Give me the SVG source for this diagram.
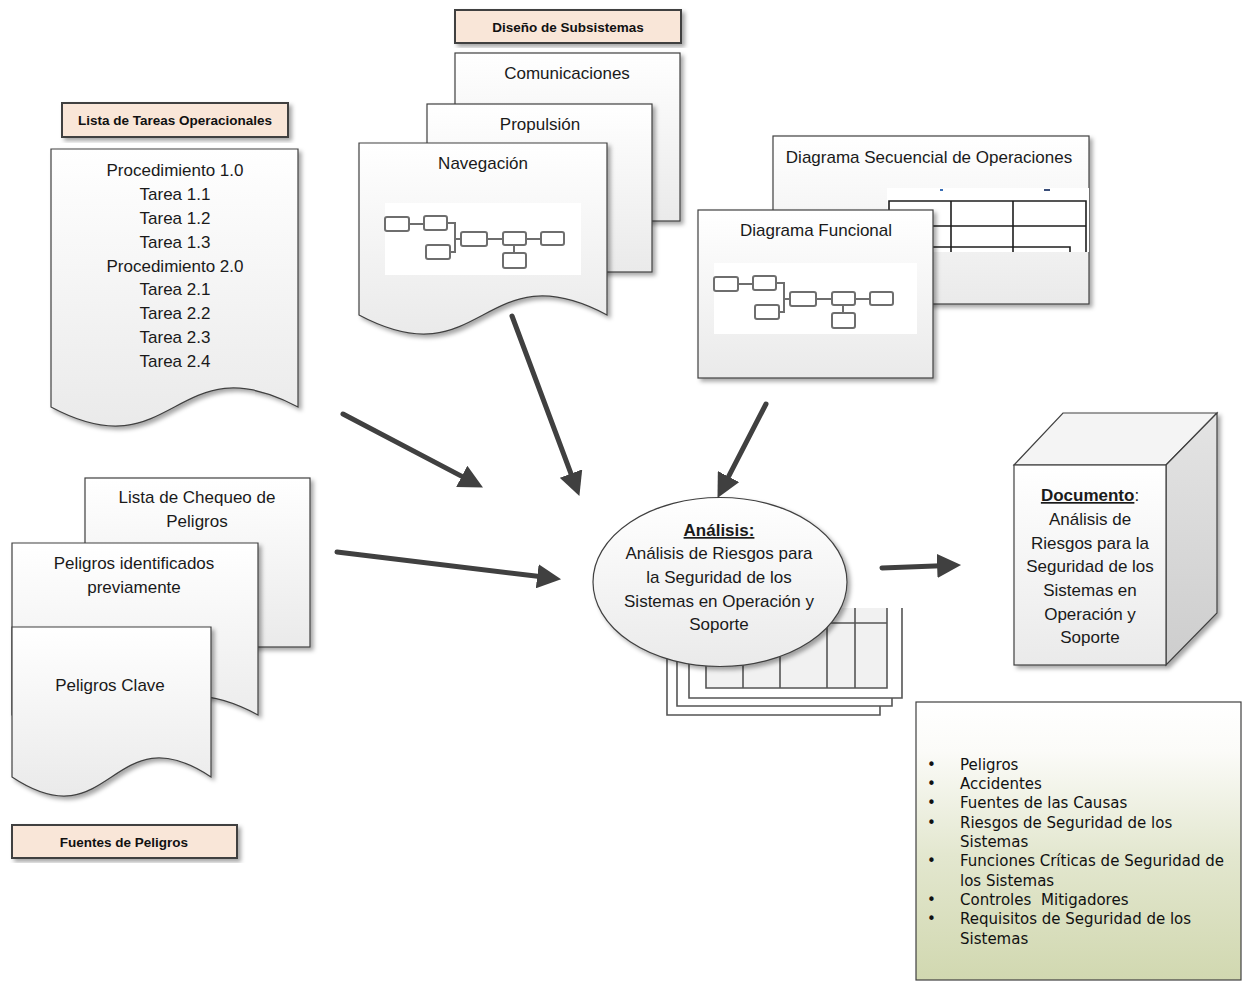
<svg xmlns="http://www.w3.org/2000/svg" width="1244" height="981" viewBox="0 0 1244 981">
  <defs>
    <style>
      .sheet { fill: url(#gSheet); stroke: #404040; stroke-width: 1.2; filter: url(#shadow); }
      .tag { fill: #f9e6d8; stroke: #404040; stroke-width: 2; filter: url(#shadow); }
      .tagText { font-family: "Liberation Sans", Arial, sans-serif; font-weight: bold; font-size: 13.5px; fill: #111; text-anchor: middle; }
      .txt { font-family: "Liberation Sans", Arial, sans-serif; font-size: 17px; fill: #1a1a1a; text-anchor: middle; }
      .list { font-family: "DejaVu Sans", Verdana, sans-serif; font-size: 15px; fill: #111; }
      .conn { fill: none; stroke: #404040; stroke-width: 5; stroke-linecap: round; marker-end: url(#head); }
      .blk { fill: #fff; stroke: #6e6e6e; stroke-width: 2; }
      .blkLine { fill: none; stroke: #6e6e6e; stroke-width: 2; }
      .tbl { fill: none; stroke: #1e1e1e; stroke-width: 1.6; }
      .stack { fill: none; stroke: #555; stroke-width: 1.6; }
    </style>
    <linearGradient id="gSheet" x1="0" y1="0" x2="0" y2="1">
      <stop offset="0" stop-color="#ffffff"/>
      <stop offset="1" stop-color="#eaeaea"/>
    </linearGradient>
    <linearGradient id="gGreen" x1="0" y1="0" x2="0" y2="1">
      <stop offset="0" stop-color="#ffffff"/>
      <stop offset="0.18" stop-color="#fbfbf8"/>
      <stop offset="0.55" stop-color="#e3e7cf"/>
      <stop offset="1" stop-color="#d1d8b0"/>
    </linearGradient>
    <linearGradient id="gSide" x1="0" y1="0" x2="0" y2="1">
      <stop offset="0" stop-color="#e4e4e4"/>
      <stop offset="1" stop-color="#cdcdcd"/>
    </linearGradient>
    <filter id="shadow" x="-10%" y="-10%" width="125%" height="125%">
      <feDropShadow dx="3" dy="3" stdDeviation="2" flood-color="#000" flood-opacity="0.35"/>
    </filter>
    <filter id="soft" x="-5%" y="-5%" width="110%" height="110%">
      <feGaussianBlur stdDeviation="0.6"/>
    </filter>
    <marker id="head" markerUnits="userSpaceOnUse" markerWidth="24" markerHeight="24" viewBox="0 0 22 22" refX="10" refY="11" orient="auto">
      <path d="M0,0 L22,11 L0,22 z" fill="#404040"/>
    </marker>
    <!-- small block diagram used inside the design sheets -->
    <g id="blocks" filter="url(#soft)">
      <path class="blkLine" d="M37,21 H52 M75,20 H83 V49 H78 M83,36 H89 M115,36 H131 M154,36 H169 M142,42 V50"/>
      <rect class="blk" x="13" y="14" width="24" height="14" rx="2"/>
      <rect class="blk" x="52" y="13" width="23" height="14" rx="2"/>
      <rect class="blk" x="89" y="29" width="26" height="14" rx="2"/>
      <rect class="blk" x="131" y="29" width="23" height="13" rx="2"/>
      <rect class="blk" x="169" y="29" width="23" height="13" rx="2"/>
      <rect class="blk" x="54" y="42" width="24" height="14" rx="2"/>
      <rect class="blk" x="131" y="50" width="23" height="15" rx="2"/>
    </g>
  </defs>

  <rect width="1244" height="981" fill="#ffffff"/>

  <!-- Lista de Tareas Operacionales -->
  <g id="tag-tareas">
    <rect class="tag" x="62" y="103" width="226" height="34"/>
    <text class="tagText" x="175" y="125">Lista de Tareas Operacionales</text>
  </g>
  <g id="doc-tareas">
    <path class="sheet" d="M51,149 H298 V407 C174.5,341 174.5,473 51,407 Z"/>
    <text class="txt" x="175" y="176">Procedimiento 1.0</text>
    <text class="txt" x="175" y="200">Tarea 1.1</text>
    <text class="txt" x="175" y="224">Tarea 1.2</text>
    <text class="txt" x="175" y="248">Tarea 1.3</text>
    <text class="txt" x="175" y="272">Procedimiento 2.0</text>
    <text class="txt" x="175" y="295">Tarea 2.1</text>
    <text class="txt" x="175" y="319">Tarea 2.2</text>
    <text class="txt" x="175" y="343">Tarea 2.3</text>
    <text class="txt" x="175" y="367">Tarea 2.4</text>
  </g>

  <!-- Diseño de Subsistemas -->
  <g id="tag-subsistemas">
    <rect class="tag" x="455" y="10" width="226" height="33"/>
    <text class="tagText" x="568" y="32">Diseño de Subsistemas</text>
  </g>
  <g id="sheet-comunicaciones">
    <rect class="sheet" x="455" y="53" width="225" height="168"/>
    <text class="txt" x="567" y="79">Comunicaciones</text>
  </g>
  <g id="sheet-propulsion">
    <rect class="sheet" x="427" y="104" width="225" height="168"/>
    <text class="txt" x="540" y="130">Propulsión</text>
  </g>
  <g id="doc-navegacion">
    <path class="sheet" d="M359,143 H607 V315 C483,249 483,381 359,315 Z"/>
    <text class="txt" x="483" y="169">Navegación</text>
    <rect x="385" y="203" width="196" height="72" fill="#ffffff"/>
    <use href="#blocks" x="372" y="203"/>
  </g>

  <!-- Diagramas -->
  <g id="sheet-secuencial">
    <rect class="sheet" x="773" y="136" width="316" height="168"/>
    <text class="txt" x="929" y="163">Diagrama Secuencial de Operaciones</text>
    <rect x="887" y="188" width="202" height="64" fill="#ffffff"/>
    <rect x="940" y="189" width="3" height="2" fill="#3b6fb6"/>
    <rect x="1044" y="189" width="6" height="2" fill="#3b4f7a"/>
    <path class="tbl" d="M889,252 V201 H1086 V252 M951,201 V252 M1013,201 V252 M889,226 H1086 M889,247 H1070 V252"/>
  </g>
  <g id="sheet-funcional">
    <rect class="sheet" x="698" y="210" width="235" height="168"/>
    <text class="txt" x="816" y="236">Diagrama Funcional</text>
    <rect x="714" y="263" width="203" height="71" fill="#ffffff"/>
    <use href="#blocks" x="701" y="263"/>
  </g>

  <!-- Fuentes de Peligros -->
  <g id="sheet-chequeo">
    <rect class="sheet" x="85" y="478" width="225" height="169"/>
    <text class="txt" x="197" y="503">Lista de Chequeo de</text>
    <text class="txt" x="197" y="527">Peligros</text>
  </g>
  <g id="doc-previos">
    <path class="sheet" d="M12,543 H258 V715 C135,649 135,781 12,715 Z"/>
    <text class="txt" x="134" y="569">Peligros identificados</text>
    <text class="txt" x="134" y="593">previamente</text>
  </g>
  <g id="doc-clave">
    <path class="sheet" d="M12,627 H211 V777 C111.5,711 111.5,843 12,777 Z"/>
    <text class="txt" x="110" y="691">Peligros Clave</text>
  </g>
  <g id="tag-fuentes">
    <rect class="tag" x="12" y="825" width="225" height="33"/>
    <text class="tagText" x="124" y="847">Fuentes de Peligros</text>
  </g>

  <!-- Análisis: stacked worksheets behind the process ellipse -->
  <g id="worksheets" filter="url(#soft)">
    <path class="stack" d="M667,608 V715 H880 V706"/>
    <path class="stack" d="M677,608 V706 H892 V698"/>
    <path class="stack" d="M689,608 V698 H902 V608"/>
    <rect x="706" y="608" width="181" height="80" fill="#f1f1f1"/>
    <path class="stack" d="M706,608 V688 H887 V608 M706,623 H887 M743,608 V688 M780,608 V688 M827,608 V688 M855,608 V688"/>
  </g>
  <g id="analisis">
    <ellipse cx="720" cy="582" rx="127" ry="84.5" fill="url(#gSheet)" stroke="#404040" stroke-width="1.2" filter="url(#shadow)"/>
    <text class="txt" x="719" y="536" font-weight="bold" text-decoration="underline">Análisis:</text>
    <text class="txt" x="719" y="559">Análisis de Riesgos para</text>
    <text class="txt" x="719" y="583">la Seguridad de los</text>
    <text class="txt" x="719" y="607">Sistemas en Operación y</text>
    <text class="txt" x="719" y="630">Soporte</text>
  </g>

  <!-- Documento -->
  <g id="documento">
    <g filter="url(#shadow)">
      <path d="M1014,465 L1063,413 H1217 L1166,465 Z" fill="#f4f4f4" stroke="#404040" stroke-width="1.2"/>
      <path d="M1166,465 L1217,413 V613 L1166,665 Z" fill="url(#gSide)" stroke="#404040" stroke-width="1.2"/>
      <rect x="1014" y="465" width="152" height="200" fill="url(#gSheet)" stroke="#404040" stroke-width="1.2"/>
    </g>
    <text class="txt" x="1090" y="501"><tspan font-weight="bold" text-decoration="underline">Documento</tspan>:</text>
    <text class="txt" x="1090" y="525">Análisis de</text>
    <text class="txt" x="1090" y="549">Riesgos para la</text>
    <text class="txt" x="1090" y="572">Seguridad de los</text>
    <text class="txt" x="1090" y="596">Sistemas en</text>
    <text class="txt" x="1090" y="620">Operación y</text>
    <text class="txt" x="1090" y="643">Soporte</text>
  </g>

  <!-- Resultados -->
  <g id="resultados">
    <rect x="916" y="702" width="325" height="278" fill="url(#gGreen)" stroke="#404040" stroke-width="1.2"/>
    <g class="list">
      <text x="927" y="770">•</text><text x="960" y="770">Peligros</text>
      <text x="927" y="789">•</text><text x="960" y="789">Accidentes</text>
      <text x="927" y="808">•</text><text x="960" y="808">Fuentes de las Causas</text>
      <text x="927" y="828">•</text><text x="960" y="828">Riesgos de Seguridad de los</text>
      <text x="960" y="847">Sistemas</text>
      <text x="927" y="866">•</text><text x="960" y="866">Funciones Críticas de Seguridad de</text>
      <text x="960" y="886">los Sistemas</text>
      <text x="927" y="905">•</text><text x="960" y="905">Controles <tspan dx="5">Mitigadores</tspan></text>
      <text x="927" y="924">•</text><text x="960" y="924">Requisitos de Seguridad de los</text>
      <text x="960" y="944">Sistemas</text>
    </g>
  </g>

  <!-- connectors -->
  <g id="connectors">
    <path class="conn" d="M343,414 L471.4,481.4"/>
    <path class="conn" d="M512,316 L574.8,483.8"/>
    <path class="conn" d="M766,404 L723.5,486.3"/>
    <path class="conn" d="M337,552 L548.1,577.6"/>
    <path class="conn" d="M882,568 L948,565.5"/>
  </g>
</svg>
